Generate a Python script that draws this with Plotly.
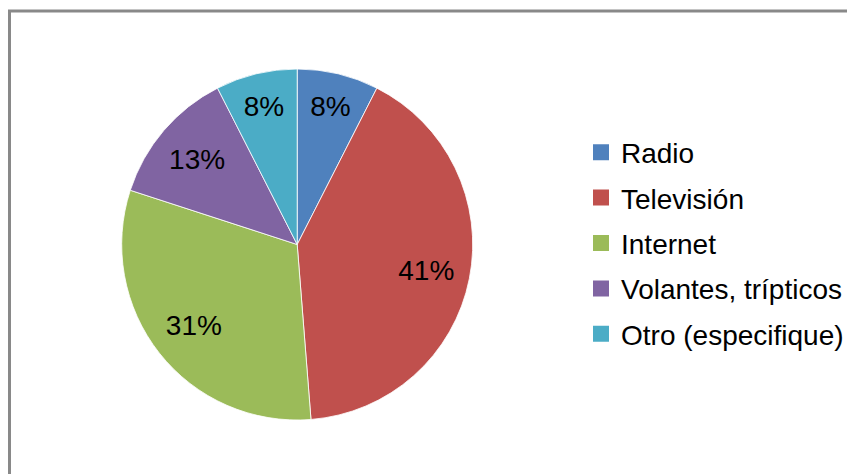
import plotly.graph_objects as go

categories = ["Radio", "Televisión", "Internet", "Volantes, trípticos", "Otro (especifique)"]
counts = [6, 33, 25, 10, 6]
colors = ["#4F81BD", "#C0504D", "#9BBB59", "#8064A2", "#4BACC6"]

total = sum(counts)
pct_text = [f"{int(v / total * 100 + 0.5)}%" for v in counts]

W, H = 855, 474
OFF = 8  # page body margin offset
FONT = "Liberation Sans, Arial, sans-serif"

pie_dom = dict(x=[(121.7 - OFF) / W, (472.7 - OFF) / W],
               y=[1 - (420 - OFF) / H, 1 - (69 - OFF) / H])

fig = go.Figure()
# base pie (slices)
fig.add_trace(go.Pie(
    labels=categories,
    values=counts,
    textinfo="none",
    marker=dict(colors=colors, line=dict(color="rgba(255,255,255,0.8)", width=1)),
    sort=False,
    direction="clockwise",
    rotation=0,
    showlegend=False,
    hoverinfo="label+percent",
    domain=pie_dom,
))
# transparent ring carrying the percentage labels at ~0.75 R
fig.add_trace(go.Pie(
    labels=categories,
    values=counts,
    text=pct_text,
    textinfo="text",
    textposition="inside",
    insidetextorientation="horizontal",
    textfont=dict(family=FONT, size=28, color="#000000"),
    marker=dict(colors=["rgba(0,0,0,0)"] * len(categories), line=dict(width=0)),
    hole=0.5,
    sort=False,
    direction="clockwise",
    rotation=0,
    showlegend=False,
    hoverinfo="skip",
    domain=pie_dom,
))

for name, col in zip(categories, colors):
    fig.add_trace(go.Scatter(
        x=[None], y=[None], mode="markers", name=name,
        legendgroup=name,
        marker=dict(symbol="square", size=16, color=col),
        showlegend=True, hoverinfo="skip",
    ))

fig.update_layout(
    width=W, height=H,
    margin=dict(l=0, r=0, t=0, b=0),
    paper_bgcolor="#ffffff",
    plot_bgcolor="rgba(0,0,0,0)",
    xaxis=dict(visible=False),
    yaxis=dict(visible=False),
    legend=dict(
        x=(581 - OFF) / W, xanchor="left",
        y=1 - (243 - OFF) / H, yanchor="middle",
        font=dict(family=FONT, size=28, color="#000000"),
        tracegroupgap=6,
        itemclick=False, itemdoubleclick=False,
        bgcolor="rgba(0,0,0,0)",
    ),
    shapes=[dict(
        type="rect", xref="paper", yref="paper",
        x0=(9.5 - OFF) / W, x1=1.05, y0=1 - (11 - OFF) / H, y1=-0.05,
        line=dict(color="#898989", width=3),
        fillcolor="rgba(0,0,0,0)", layer="above",
    )],
)

fig.write_html("out.html")
